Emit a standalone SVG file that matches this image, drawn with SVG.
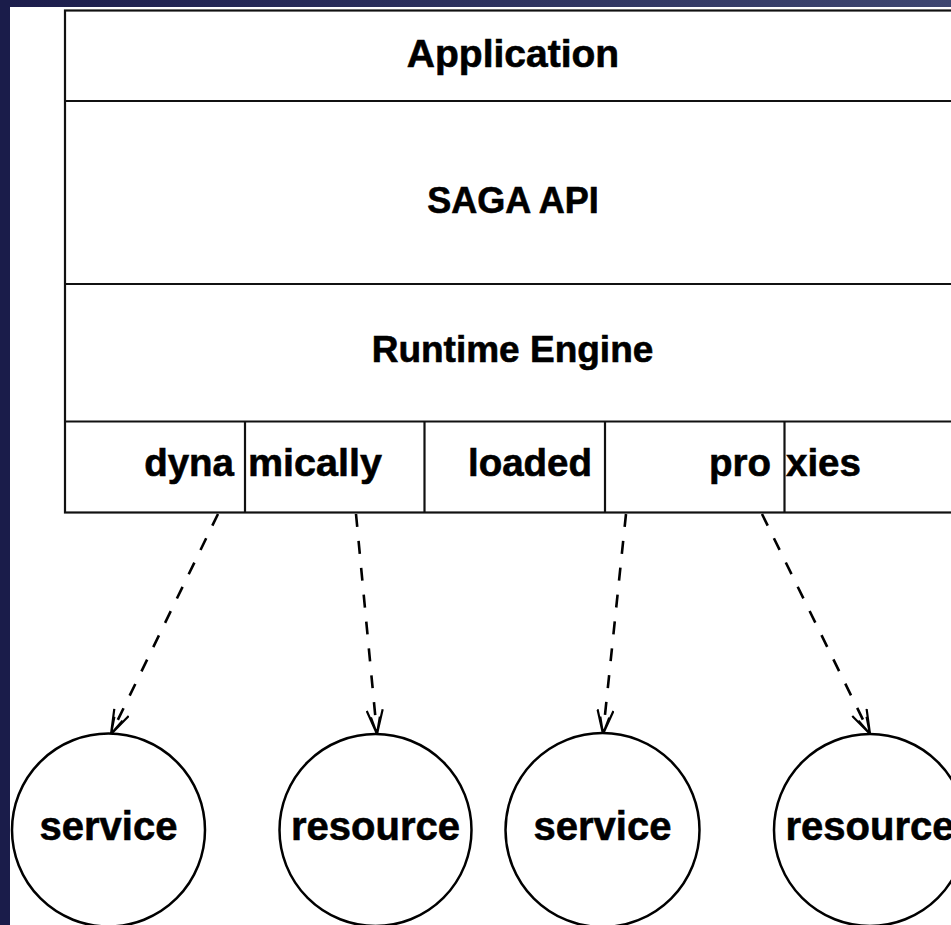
<svg xmlns="http://www.w3.org/2000/svg" width="951" height="925" viewBox="0 0 951 925">
<defs>
<linearGradient id="topbar" x1="0" y1="0" x2="1" y2="0">
<stop offset="0" stop-color="#1c1d4c"/>
<stop offset="1" stop-color="#3e4670"/>
</linearGradient>
<marker id="arr" markerWidth="28" markerHeight="18" refX="26" refY="9" orient="auto" markerUnits="userSpaceOnUse">
<path d="M2,1 L26,9 L2,17 M9,4.5 L26,9 L9,13.5" fill="none" stroke="#000" stroke-width="2.2"/>
</marker>
<style>
.box{fill:none;stroke:#111;stroke-width:2.2}
.lbl{font-family:"Liberation Sans",Arial,sans-serif;font-weight:bold;fill:#000;stroke:#000;stroke-width:0.6}
.c{text-anchor:middle}
.node{fill:#fff;stroke:#000;stroke-width:2.5}
.edge{fill:none;stroke:#000;stroke-width:2.6;stroke-dasharray:13 14}
</style>
</defs>
<rect x="0" y="0" width="951" height="925" fill="#fff"/>
<rect x="0" y="0" width="951" height="7" fill="url(#topbar)"/>
<rect x="0" y="0" width="10" height="925" fill="#1a1c4a"/>

<g id="stack">
<rect class="box" x="65" y="10.5" width="900" height="502"/>
<line class="box" x1="65" y1="101" x2="951" y2="101"/>
<line class="box" x1="65" y1="284" x2="951" y2="284"/>
<line class="box" x1="65" y1="421.5" x2="951" y2="421.5"/>
<line class="box" x1="245" y1="421.5" x2="245" y2="512.5"/>
<line class="box" x1="424.5" y1="421.5" x2="424.5" y2="512.5"/>
<line class="box" x1="605" y1="421.5" x2="605" y2="512.5"/>
<line class="box" x1="784.5" y1="421.5" x2="784.5" y2="512.5"/>
</g>
<g id="application"><text class="lbl c" x="513" y="67" font-size="39">Application</text></g>
<g id="saga-api"><text class="lbl c" x="513" y="213" font-size="36">SAGA API</text></g>
<g id="runtime-engine"><text class="lbl c" x="512.5" y="362" font-size="37">Runtime Engine</text></g>
<g id="proxy-row">
<text class="lbl" x="234" y="476" font-size="38.5" text-anchor="end">dyna</text>
<text class="lbl" x="248" y="476" font-size="39.5">mically</text>
<text class="lbl c" x="530" y="476" font-size="38.5">loaded</text>
<text class="lbl" x="771" y="476" font-size="38.5" text-anchor="end">pro</text>
<text class="lbl" x="786" y="476" font-size="38.5">xies</text>
</g>

<g id="connectors">
<line class="edge" x1="218" y1="514" x2="111" y2="734" marker-end="url(#arr)"/>
<line class="edge" x1="356" y1="514" x2="377" y2="734" marker-end="url(#arr)"/>
<line class="edge" x1="626" y1="514" x2="603" y2="734" marker-end="url(#arr)"/>
<line class="edge" x1="762" y1="514" x2="870" y2="734" marker-end="url(#arr)"/>
</g>

<g id="service1"><circle class="node" cx="108.5" cy="830" r="96.5"/><text class="lbl c" x="108.5" y="840" font-size="40">service</text></g>
<g id="resource1"><circle class="node" cx="375.5" cy="830" r="96"/><text class="lbl c" x="375.5" y="840" font-size="40">resource</text></g>
<g id="service2"><circle class="node" cx="602.5" cy="830" r="97"/><text class="lbl c" x="602.5" y="840" font-size="40">service</text></g>
<g id="resource2"><circle class="node" cx="870" cy="830" r="96"/><text class="lbl c" x="870" y="840" font-size="40">resource</text></g>
</svg>
